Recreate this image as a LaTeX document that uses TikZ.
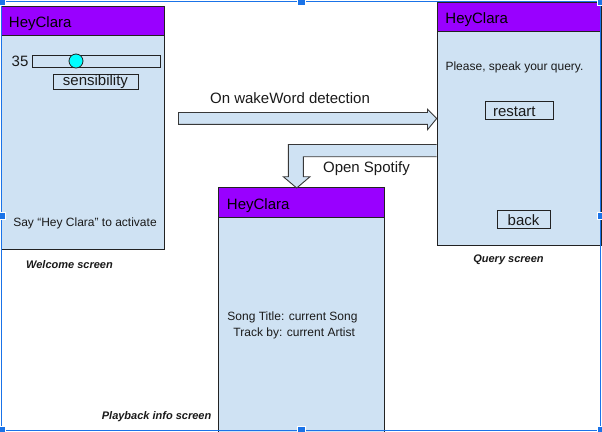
\documentclass[tikz,border=0pt]{standalone}
\usepackage{fontspec}
\setmainfont{Liberation Sans}
\definecolor{hdrc}{HTML}{9900FF}
\definecolor{body}{HTML}{CFE2F3}
\definecolor{edge}{HTML}{222222}
\definecolor{txt}{HTML}{1A1A1A}
\definecolor{sel}{HTML}{1A73E8}
\definecolor{knob}{HTML}{00FFFF}
\begin{document}
\begin{tikzpicture}[x=1pt,y=-1pt,
  screen/.style={draw=edge, fill=body, line width=0.9pt, anchor=north west, inner sep=0pt},
  hdr/.style={draw=edge, fill=hdrc, line width=0.9pt, anchor=north west, inner ysep=0pt, inner xsep=8pt,
    align=left, text=black, font=\fontsize{15}{18}\selectfont, text height=14pt, text depth=0pt},
  big/.style={font=\fontsize{15}{18}\selectfont, text=txt, inner sep=0pt},
  small/.style={font=\fontsize{12}{16}\selectfont, text=txt, inner sep=0pt},
  caption/.style={font=\fontsize{11}{13}\selectfont\bfseries\itshape, text=txt, inner sep=0pt},
  btn/.style={draw=edge, line width=0.9pt, fill=body, inner ysep=0pt, font=\fontsize{15}{18}\selectfont,
    text=txt, text height=11pt, text depth=3pt},
  tallbtn/.style={btn, text height=12pt, text depth=0pt},
  blockarrow/.style={draw=edge!90, fill=body, line width=0.9pt, line join=miter},
  selframe/.style={draw=sel, line width=1pt},
  handle/.style={fill=sel, draw=white, line width=0.6pt, minimum size=7.5pt, inner sep=0pt}
]
\useasboundingbox (0,0) rectangle (602,431);
\fill[white] (0,0) rectangle (602,431);
\begin{scope}
\clip (0,0) rectangle (602,431);

% ---- Welcome screen
\node[screen, minimum width=163.5pt, minimum height=243.5pt] (welcome) at (0.5,5.5) {};
\node[hdr, text width=147.5pt, minimum height=29.5pt] (welcomehdr) at (welcome.north west) {HeyClara};
\node[big, anchor=west] (wnum) at (11.5,61.5) {35};
\node[draw=edge, line width=0.9pt, fill=body, minimum width=128pt, minimum height=12pt, anchor=west, inner sep=0pt] (wslider) at (32,61) {};
\node[circle, draw=edge, line width=0.8pt, fill=knob, minimum size=14pt, inner sep=0pt] (wknob) at (76,61) {};
\node[btn, minimum width=85pt, minimum height=15pt] (wsens) at (95.5,81.5) {sensibility};
\node[small] (wsay) at (85,223.5) {Say “Hey Clara” to activate};
\node[caption] (wcap) at (69.5,264.5) {Welcome screen};

% ---- Query screen
\node[screen, minimum width=164pt, minimum height=243pt] (query) at (437,2) {};
\node[hdr, text width=148pt, minimum height=29pt] (queryhdr) at (query.north west) {HeyClara};
\node[small] (qsay) at (514.5,67.5) {Please, speak your query.};
\node[tallbtn, text width=52pt, inner xsep=8pt, align=left, minimum height=18pt] (qrestart) at (519,110) {restart};
\node[tallbtn, minimum width=53pt, minimum height=18pt] (qback) at (523.5,219) {back};
\node[caption] (qcap) at (508.5,259.5) {Query screen};

% ---- Playback info screen
\node[screen, minimum width=165.5pt, minimum height=260pt] (play) at (218,187) {};
\node[hdr, text width=149pt, minimum height=30pt, inner xsep=8.5pt] (playhdr) at (play.north west) {HeyClara};
\node[font=\fontsize{12}{16}\selectfont, text=txt, inner sep=0pt, align=center] (psong) at (292.5,325.5) {Song Title: current Song\\\ Track by: current Artist};
\node[caption, anchor=east] (pcap) at (211.5,416.5) {Playback info screen};

% ---- Block arrows
\draw[blockarrow] (178.5,112.5) -- (427.5,112.5) -- (427.5,109.3) -- (436.7,118.5)
  -- (427.5,129.7) -- (427.5,124.3) -- (178.5,124.3) -- cycle;
\node[big] (lwake) at (290,98.5) {On wakeWord detection};

\draw[blockarrow] (436.7,144.5) -- (288.3,144.5) -- (288.3,176.7) -- (283.3,176.7)
  -- (296.7,188) -- (310,176.7) -- (303.3,176.7) -- (303.3,156.7) -- (436.7,156.7);
\node[big] (lspot) at (366.5,168.5) {Open Spotify};

% ---- selection frame
\draw[selframe] (1.2,1.2) rectangle (600.8,430.3);
\foreach \hx/\hy [count=\i] in {1.2/1.2, 301.5/1.2, 600.8/1.2, 1.2/216, 600.8/216, 1.2/430.3, 301.5/430.3, 600.8/430.3}
  \node[handle] (h\i) at (\hx,\hy) {};
\end{scope}
\end{tikzpicture}
\end{document}
